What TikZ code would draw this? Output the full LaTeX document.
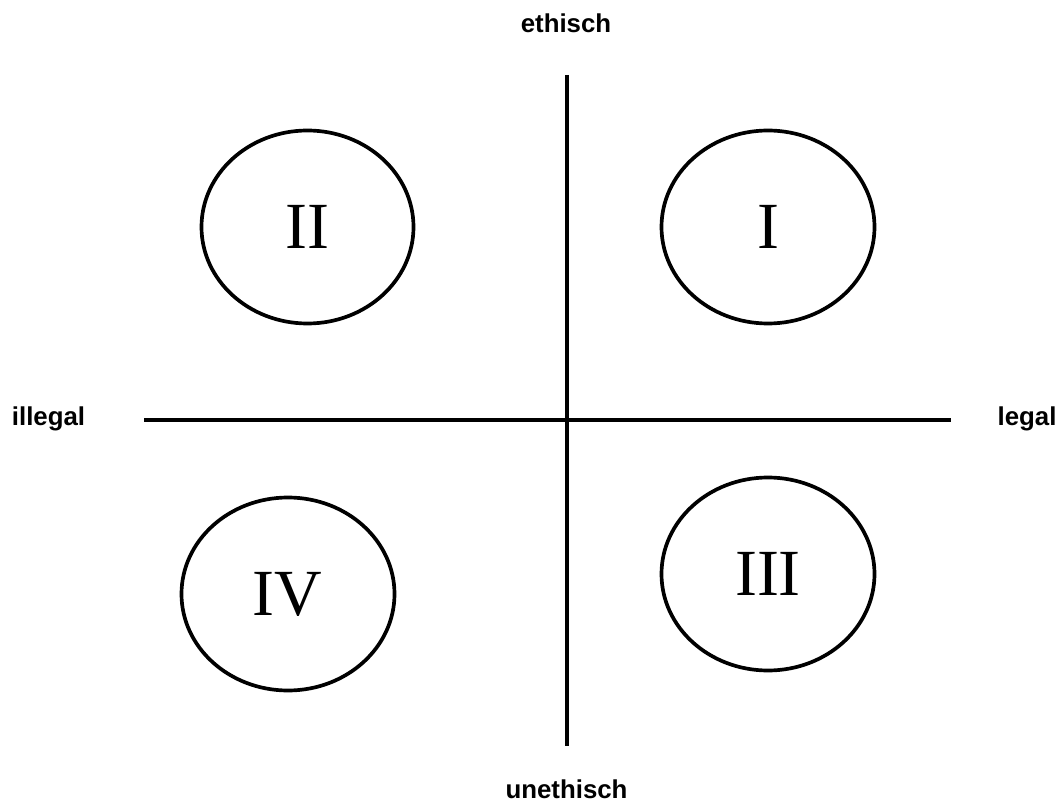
\documentclass[tikz,border=0pt]{standalone}
\usepackage{fontspec}
\setmainfont{Liberation Serif}
\setsansfont{Liberation Sans}
\begin{document}
\begin{tikzpicture}[x=0.02cm,y=-0.02cm,
  axis/.style={line width=2.1pt},
  oval/.style={line width=2.1pt},
  axlabel/.style={font=\sffamily\bfseries\fontsize{14.7}{16}\selectfont,anchor=base,inner sep=0pt},
  numeral/.style={font=\fontsize{37.5}{40}\selectfont,anchor=base,inner sep=0pt}]
\useasboundingbox (0,0) rectangle (1061,803);
% axes
\coordinate (vt) at (567,75);
\coordinate (vb) at (567,746);
\coordinate (hl) at (144,420);
\coordinate (hr) at (951,420);
\draw[axis] (vt) -- (vb);
\draw[axis] (hl) -- (hr);
% ellipses
\draw[oval] (307.5,227) ellipse [x radius=106, y radius=96.5];
\draw[oval] (768,227) ellipse [x radius=106.5, y radius=96.5];
\draw[oval] (288,594) ellipse [x radius=106.5, y radius=96.5];
\draw[oval] (768,574) ellipse [x radius=106.5, y radius=96.5];
% numerals
\node[numeral] (n2) at (307,249) {II};
\node[numeral] (n1) at (768,249) {I};
\node[numeral] (n4) at (287,615) {IV};
\node[numeral] (n3) at (768,595) {III};
% axis labels
\node[axlabel] (eth) at (566,33) {ethisch};
\node[axlabel] (uneth) at (566.5,798) {unethisch};
\node[axlabel] (ill) at (48.5,426) {illegal};
\node[axlabel] (leg) at (1027,426) {legal};
\end{tikzpicture}
\end{document}
